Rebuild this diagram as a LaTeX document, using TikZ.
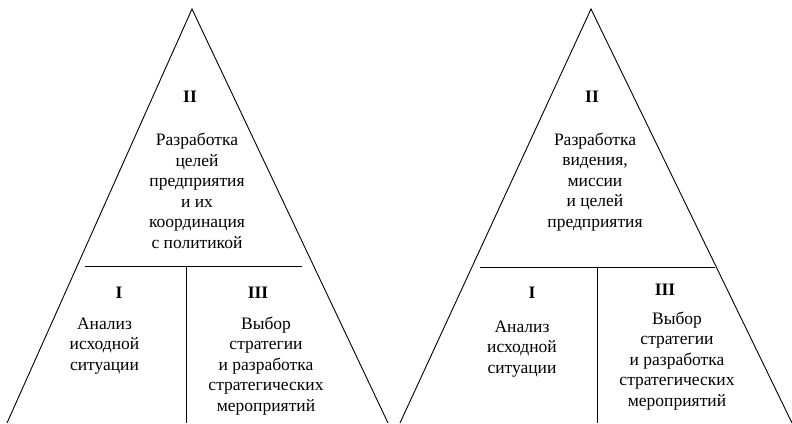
\documentclass[tikz,border=0pt]{standalone}
\usepackage{fontspec}
\setmainfont{Liberation Serif}
\begin{document}
\begin{tikzpicture}[x=1pt,y=1pt,
  edge/.style={line width=0.9pt},
  txt/.style={inner sep=0pt, align=center, font=\fontsize{17.5}{20.5}\selectfont},
  num/.style={inner sep=0pt, font=\fontsize{17.5}{20.5}\selectfont\bfseries}]
\useasboundingbox (0,0) rectangle (792,423);
% left pyramid
\coordinate (la) at (192,414);
\coordinate (ll) at (7,0);
\coordinate (lr) at (388,0);
\draw[edge] (ll) -- (la) -- (lr);
\coordinate (lh1) at (85,157);
\coordinate (lh2) at (302,157);
\coordinate (lv1) at (186,157);
\coordinate (lv2) at (186,0);
\draw[edge] (lh1) -- (lh2);
\draw[edge] (lv1) -- (lv2);
\node[num] (l2) at (190,326) {II};
\node[txt] (l2t) at (197,232) {Разработка\\целей\\предприятия\\и их\\координация\\с политикой};
\node[num] (l1) at (119,130) {I};
\node[txt] (l1t) at (104.5,77) {Анализ\\исходной\\ситуации};
\node[num] (l3) at (258,130) {III};
\node[txt] (l3t) at (266,57) {Выбор\\стратегии\\и разработка\\стратегических\\мероприятий};
% right pyramid
\coordinate (ra) at (591,414);
\coordinate (rl) at (400,0);
\coordinate (rr) at (792,0);
\draw[edge] (rl) -- (ra) -- (rr);
\coordinate (rh1) at (480,156);
\coordinate (rh2) at (715,156);
\coordinate (rv1) at (597,156);
\coordinate (rv2) at (597,0);
\draw[edge] (rh1) -- (rh2);
\draw[edge] (rv1) -- (rv2);
\node[num] (r2) at (592,326) {II};
\node[txt] (r2t) at (595,241) {Разработка\\видения,\\миссии\\и целей\\предприятия};
\node[num] (r1) at (532,130) {I};
\node[txt] (r1t) at (522,74) {Анализ\\исходной\\ситуации};
\node[num] (r3) at (665,133) {III};
\node[txt] (r3t) at (677,62) {Выбор\\стратегии\\и разработка\\стратегических\\мероприятий};
\end{tikzpicture}
\end{document}
